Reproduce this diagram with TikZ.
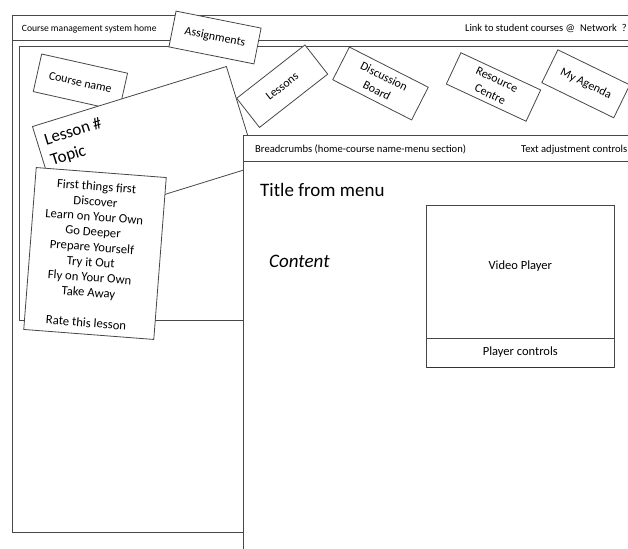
\documentclass[tikz,border=0pt]{standalone}
\usepackage{fontspec}
\setmainfont{Carlito}
\begin{document}
\begin{tikzpicture}[x=1pt,y=-1pt,
  wire/.style={draw=black!72,line width=0.8pt},
  card/.style={wire,fill=white,inner sep=0pt,align=center,
    font=\fontsize{12}{16}\selectfont},
  label/.style={inner sep=0pt},
  barfont/.style={label,font=\fontsize{10}{12}\selectfont},
  bigfont/.style={label,font=\fontsize{19}{22}\selectfont},
  playerfont/.style={label,font=\fontsize{12.5}{15}\selectfont},
  playerbox/.style={wire,fill=white,anchor=north west,inner sep=0pt,outer sep=0pt,
    minimum width=187.3pt},
]
\useasboundingbox (0,0) rectangle (628,548);
\clip (0,0) rectangle (628,548);

% page frame with the top bar
\draw[wire,line width=1pt] (12.7,16) rectangle (660,532.7);
\draw[wire,line width=1pt] (12.7,40.5) -- (660,40.5);
\node[barfont,anchor=base west,font=\fontsize{9.6}{12}\selectfont] (home) at (21.7,31.8)
  {Course management system home};
\node[barfont,anchor=base east,font=\fontsize{10.5}{12}\selectfont] (network) at (627,31.5)
  {Link to student courses @\hspace{5pt}Network\hspace{5pt}?};

% course area frame
\draw[wire] (19.3,46.5) rectangle (660,320);

% navigation tabs and cards
\node[card,rotate=-11.3,minimum width=86.7pt,minimum height=36.5pt] (assign) at (215,37.5) {Assignments};
\node[card,rotate=-12.6,minimum width=88pt,minimum height=38.5pt] (coursename) at (80.4,82.4) {Course name};

\node[card,rotate=17.2,minimum width=203pt,minimum height=104pt] (lesson) at (144.8,146.2) {};
\begin{scope}[shift={(lesson.north west)},rotate=17.2]
  \node[label,anchor=north west,align=left,rotate=17.2,
        font=\fontsize{17}{21.5}\selectfont] (lessontitle) at (8,10.5) {Lesson \#\\Topic};
\end{scope}

\node[card,rotate=38,minimum width=86.6pt,minimum height=37pt] (lessons) at (282.2,86.2) {Lessons};
\node[card,rotate=-27,minimum width=88.5pt,minimum height=36.7pt] (discussion) at (380.5,83.5) {Discussion\\Board};
\node[card,rotate=-25,minimum width=88pt,minimum height=34.5pt] (resource) at (493.5,87) {Resource\\Centre};
\node[card,rotate=-26,minimum width=80pt,minimum height=36.6pt] (agenda) at (585.8,83.8) {My Agenda};

\node[card,rotate=-4.4,minimum width=130.4pt,minimum height=162.4pt] (menu) at (95,253.5) {};
\node[label,rotate=-4.4,align=center,font=\fontsize{12.7}{15.2}\selectfont] (menutext)
  at ([shift={(-3.6,1)}]menu.center)
  {First things first\\Discover\\Learn on Your Own\\Go Deeper\\Prepare Yourself\\
   Try it Out\\Fly on Your Own\\Take Away\\[15.2pt]Rate this lesson};

% content panel
\draw[wire,fill=white] (243.3,135) rectangle (660,560);
\draw[wire] (243.3,161.5) -- (660,161.5);
\node[barfont,anchor=base west,font=\fontsize{10.6}{12}\selectfont] (crumbs) at (255,152.5)
  {Breadcrumbs (home-course name-menu section)};
\node[barfont,anchor=base west,font=\fontsize{10.6}{12}\selectfont] (textadj) at (521,152.5)
  {Text adjustment controls};
\node[bigfont,anchor=base west] (title) at (260,196) {Title from menu};
\node[bigfont,anchor=base west,font=\fontsize{19}{22}\selectfont\itshape] (content) at (269,267.5) {Content};

% video player
\node[playerbox,minimum height=133.3pt] (video) at (426.7,205) {};
\node[playerbox,minimum height=29.4pt] (controls) at (video.south west) {};
\draw[draw=black!80,line width=1.5pt] (controls.south west) -- (controls.south east);
\node[playerfont,anchor=base] (videolabel) at (520.3,269) {Video Player};
\node[playerfont,anchor=base] (controlslabel) at (520.3,355.5) {Player controls};
\end{tikzpicture}
\end{document}
